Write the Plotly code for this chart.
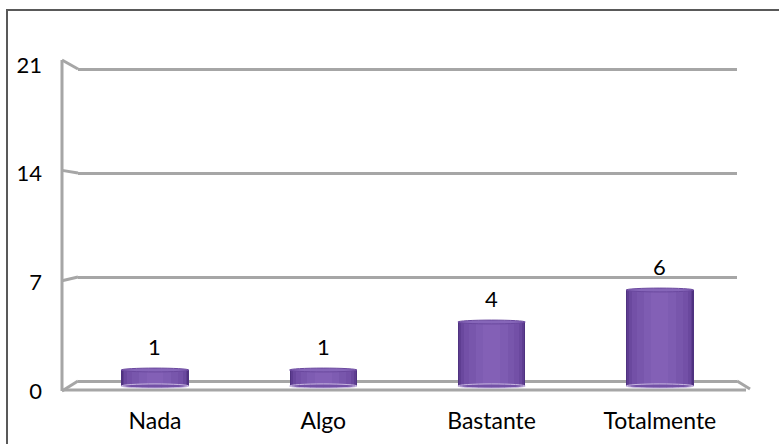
import plotly.graph_objects as go

# ---- data -------------------------------------------------------------
categories = ["Nada", "Algo", "Bastante", "Totalmente"]
values = [1, 1, 4, 6]
tick_values = [0, 7, 14, 21]
tick_labels = ["0", "7", "14", "21"]

# ---- canvas / scene geometry -----------------------------------------
W, H = 779, 444
FONT = "Lato, 'Open Sans', sans-serif"
GRID = "#A6A6A6"
WALL_X0, WALL_X1, WALL_X2 = 62, 78, 737   # wall edge, back-plane start, back-plane end


def span(px_zero, px_per_unit):
    """Axis range (figure spans full height) putting value 0 at pixel row px_zero."""
    return [-(H - px_zero) / px_per_unit, px_zero / px_per_unit]


wall_scale = 104 / 7          # back wall (gridlines)
front_scale = 15.76           # front plane (gridline tips)
bar_scale = 16.0              # bars stand in front of the wall
wall_range = span(381, wall_scale)
label_range = span(391, 15.52)
bar_range = span(386, bar_scale)


def px(x):
    return x / W


def py(y):
    return 1 - y / H


def wall_row(v):
    return 381 - v * wall_scale


def front_row(v):
    return 391 - v * front_scale


fig = go.Figure()

# Cylinder bodies: stacked overlays, darker edges to lighter core
shading = [(0.40, "#4F3280"), (0.385, "#5E3D91"), (0.365, "#6A489E"), (0.33, "#7350A7"),
           (0.27, "#7856AC"), (0.19, "#7E5CB2"), (0.10, "#8360B6")]
for w, c in shading:
    fig.add_trace(go.Bar(
        x=categories, y=values, width=w, marker=dict(color=c, line=dict(width=0)),
        xaxis="x2", yaxis="y2", hoverinfo="skip", showlegend=False,
    ))

# empty traces so the wall and label axes are rendered
fig.add_trace(go.Scatter(x=[None], y=[None], xaxis="x", yaxis="y3", showlegend=False, hoverinfo="skip"))
fig.add_trace(go.Scatter(x=[None], y=[None], xaxis="x", yaxis="y", showlegend=False, hoverinfo="skip"))

shapes = []
# cylinder caps and bases
for i, v in enumerate(values):
    shapes.append(dict(type="circle", xref="x2", yref="y2", layer="above",
                       x0=i - 0.2, x1=i + 0.2, y0=-0.13, y1=0.13,
                       fillcolor="#7350A7", line=dict(color="#C9B9E2", width=1)))
    shapes.append(dict(type="circle", xref="x2", yref="y2", layer="above",
                       x0=i - 0.2, x1=i + 0.2, y0=v - 0.12, y1=v + 0.12,
                       fillcolor="#8666B9", line=dict(color="#6A489E", width=1)))

# slanted ends of the gridlines where they meet the side wall
for v in tick_values:
    shapes.append(dict(type="line", xref="paper", yref="paper", layer="below",
                       x0=px(WALL_X0), y0=py(front_row(v)), x1=px(WALL_X1), y1=py(wall_row(v)),
                       line=dict(color=GRID, width=3)))
# side wall edge
shapes.append(dict(type="line", xref="paper", yref="paper", layer="below",
                   x0=px(WALL_X0), y0=py(front_row(21)), x1=px(WALL_X0), y1=py(front_row(0)),
                   line=dict(color=GRID, width=3)))
# floor front lip and right corner
shapes.append(dict(type="line", xref="paper", yref="paper", layer="below",
                   x0=px(WALL_X0), y0=py(front_row(0) - 1), x1=px(746), y1=py(front_row(0) - 1),
                   line=dict(color=GRID, width=3)))
shapes.append(dict(type="line", xref="paper", yref="paper", layer="below",
                   x0=px(WALL_X2), y0=py(wall_row(0)), x1=px(750), y1=py(front_row(0) - 2),
                   line=dict(color=GRID, width=3)))
# outer frame
shapes.append(dict(type="rect", xref="paper", yref="paper", layer="above",
                   x0=px(7), y0=-0.2, x1=1.2, y1=py(10),
                   line=dict(color="#595959", width=2), fillcolor="rgba(0,0,0,0)"))

# value labels above each cylinder
annotations = [
    dict(x=cat, y=v, xref="x2", yref="y2", text=str(v), showarrow=False,
         yanchor="bottom", yshift=8, font=dict(family=FONT, size=22, color="#000000"))
    for cat, v in zip(categories, values)
]

fig.update_layout(
    width=W, height=H, autosize=False,
    margin=dict(l=0, r=0, t=0, b=0),
    paper_bgcolor="white", plot_bgcolor="rgba(0,0,0,0)",
    barmode="overlay", bargap=0,
    font=dict(family=FONT, color="#000000"),
    showlegend=False,
    shapes=shapes, annotations=annotations,
    # back wall with its gridlines
    xaxis=dict(domain=[px(WALL_X1), px(WALL_X2)], range=[0, 1], showgrid=False,
               zeroline=False, showline=False, showticklabels=False, ticks=""),
    yaxis=dict(domain=[0, 1], range=wall_range, anchor="x", tickvals=tick_values,
               showgrid=True, gridcolor=GRID, gridwidth=3, zeroline=False,
               showline=False, showticklabels=False, ticks=""),
    # value axis labels
    yaxis3=dict(overlaying="y", anchor="free", position=px(42), side="left",
                range=label_range, tickvals=tick_values, ticktext=tick_labels,
                showgrid=False, zeroline=False, showline=False, ticks="",
                tickfont=dict(family=FONT, size=22, color="#000000")),
    # bars in front of the wall
    xaxis2=dict(domain=[0, 1], range=[-0.921, 3.708], type="category",
                categoryorder="array", categoryarray=categories,
                anchor="free", position=py(405), showgrid=False, zeroline=False,
                showline=False, ticks="", tickfont=dict(family=FONT, size=23, color="#000000")),
    yaxis2=dict(domain=[0, 1], range=bar_range, anchor="x2", showgrid=False,
                zeroline=False, showline=False, showticklabels=False, ticks=""),
)

fig.write_html("out.html")
